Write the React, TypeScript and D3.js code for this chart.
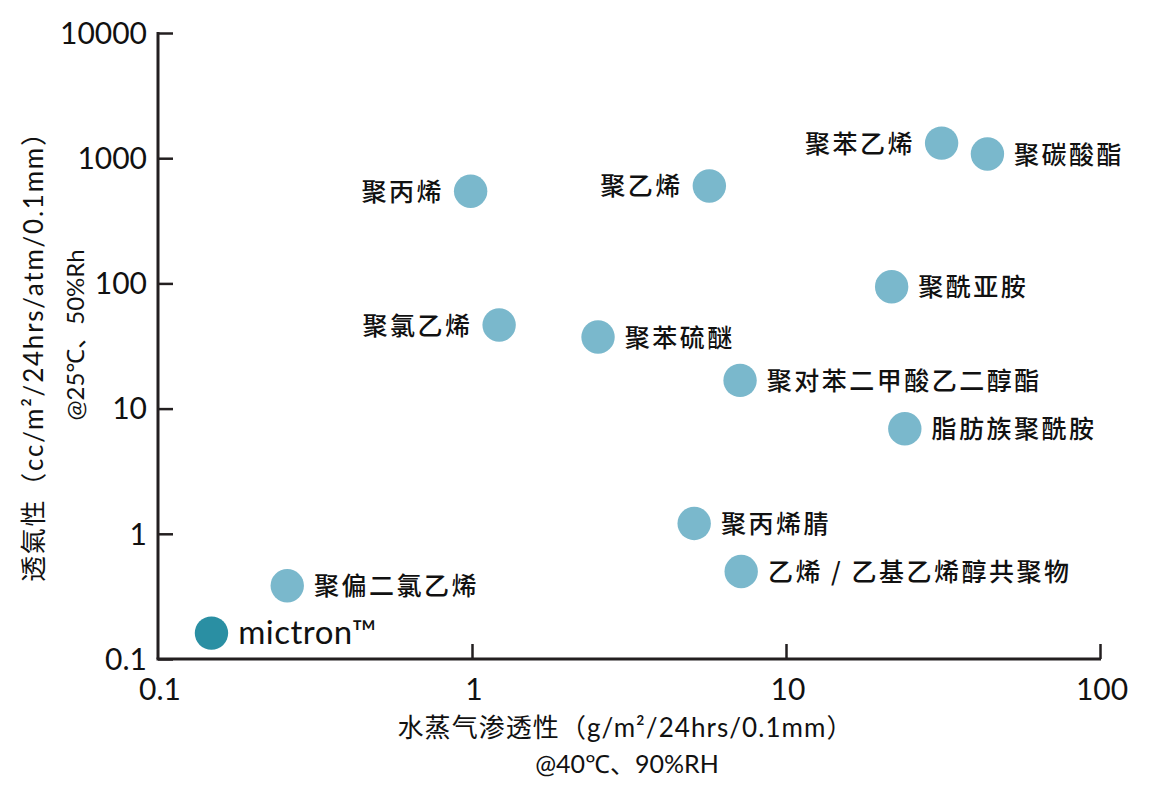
import React, { useEffect, useRef } from "react";
import * as d3 from "d3";

// water vapour transmission (g/m²/24hrs/0.1mm) vs oxygen transmission (cc/m²/24hrs/atm/0.1mm)
const materials = [
  "聚丙烯",
  "聚乙烯",
  "聚苯乙烯",
  "聚碳酸酯",
  "聚酰亚胺",
  "聚氯乙烯",
  "聚苯硫醚",
  "聚对苯二甲酸乙二醇酯",
  "脂肪族聚酰胺",
  "聚丙烯腈",
  "乙烯 / 乙基乙烯醇共聚物",
  "聚偏二氯乙烯",
  "mictron™",
];
const waterVapor = [0.99, 5.7, 31.3, 43.8, 21.7, 1.22, 2.52, 7.14, 23.9, 5.1, 7.2, 0.258, 0.148];
const oxygen = [545, 600, 1320, 1080, 94, 46.5, 37.3, 16.8, 6.9, 1.21, 0.5, 0.385, 0.161];

const leftLabeled = ["聚丙烯", "聚乙烯", "聚苯乙烯", "聚氯乙烯"];
const highlight = "mictron™";

const xTicks = [0.1, 1, 10, 100];
const yTicks = [0.1, 1, 10, 100, 1000, 10000];

const width = 1139;
const height = 790;

const App: React.FC = () => {
  const svgRef = useRef<SVGSVGElement>(null);

  useEffect(() => {
    const svg = d3.select(svgRef.current);
    svg.selectAll("*").remove();

    const xScale = d3.scaleLog().domain([0.1, 100]).range([150, 1092]);
    const yScale = d3.scaleLog().domain([0.1, 10000]).range([651, 25]);

    const axisColor = "#231f20";
    const numFont = "Lato, 'Noto Sans', sans-serif";
    const cjkFont = "'Noto Sans CJK SC', 'Noto Sans CJK JP', sans-serif";

    // y axis (ticks inside)
    const yAxis = svg.append("g").attr("transform", `translate(${xScale(0.1)},0)`);
    yAxis
      .call(d3.axisRight(yScale).tickValues(yTicks).tickSize(15).tickFormat(() => ""))
      .call((g) => g.select(".domain").remove());
    yAxis.selectAll("line").attr("stroke", axisColor).attr("stroke-width", 2.5);
    yAxis
      .append("line")
      .attr("y1", yScale(10000) - 1)
      .attr("y2", yScale(0.1))
      .attr("stroke", axisColor)
      .attr("stroke-width", 3);
    yAxis
      .selectAll("text.lbl")
      .data(yTicks)
      .join("text")
      .attr("class", "lbl")
      .attr("x", -11)
      .attr("y", (d) => yScale(d))
      .attr("dy", "0.36em")
      .attr("text-anchor", "end")
      .attr("font-family", numFont)
      .attr("font-size", 30)
      .attr("fill", "#111")
      .text((d) => String(d));

    // x axis (ticks inside)
    const xAxis = svg.append("g").attr("transform", `translate(0,${yScale(0.1)})`);
    xAxis
      .call(d3.axisTop(xScale).tickValues(xTicks.slice(1)).tickSize(15).tickFormat(() => ""))
      .call((g) => g.select(".domain").remove());
    xAxis.selectAll("line").attr("stroke", axisColor).attr("stroke-width", 2.5);
    xAxis
      .append("line")
      .attr("x1", xScale(0.1) - 1.5)
      .attr("x2", xScale(100) + 1)
      .attr("stroke", axisColor)
      .attr("stroke-width", 3);
    xAxis
      .selectAll("text.lbl")
      .data(xTicks)
      .join("text")
      .attr("class", "lbl")
      .attr("x", (d) => xScale(d) + 2)
      .attr("y", 41)
      .attr("text-anchor", "middle")
      .attr("font-family", numFont)
      .attr("font-size", 30)
      .attr("fill", "#111")
      .text((d) => String(d));

    // axis titles
    const titleFont = numFont + ", " + cjkFont;
    svg
      .append("text")
      .attr("x", 617)
      .attr("y", 729)
      .attr("text-anchor", "middle")
      .attr("font-family", titleFont)
      .attr("font-size", 26)
      .attr("textLength", 455)
      .attr("lengthAdjust", "spacing")
      .attr("fill", "#111")
      .text("水蒸气渗透性（g/m²/24hrs/0.1mm）");
    svg
      .append("text")
      .attr("x", 619)
      .attr("y", 765)
      .attr("text-anchor", "middle")
      .attr("font-family", titleFont)
      .attr("font-size", 25)
      .attr("fill", "#111")
      .text("@40℃、90%RH");

    const yTitle = svg
      .append("g")
      .attr("transform", "rotate(-90)")
      .attr("font-family", titleFont)
      .attr("fill", "#111")
      .attr("text-anchor", "middle");
    yTitle
      .append("text")
      .attr("x", -343)
      .attr("y", 35)
      .attr("font-size", 26)
      .attr("textLength", 462)
      .attr("lengthAdjust", "spacing")
      .text("透氣性（cc/m²/24hrs/atm/0.1mm）");
    yTitle
      .append("text")
      .attr("x", -327)
      .attr("y", 76)
      .attr("font-size", 24)
      .text("@25℃、50%Rh");

    // points
    const data = materials.map((name, i) => ({ name, x: waterVapor[i], y: oxygen[i] }));
    const r = 16.7;

    const pts = svg.append("g");
    pts
      .selectAll("circle")
      .data(data)
      .join("circle")
      .attr("cx", (d) => xScale(d.x))
      .attr("cy", (d) => yScale(d.y))
      .attr("r", r)
      .attr("fill", (d) => (d.name === highlight ? "#2a8fa3" : "#7ab8cc"));

    pts
      .selectAll("text")
      .data(data)
      .join("text")
      .attr("x", (d) =>
        leftLabeled.includes(d.name) ? xScale(d.x) - r - 10 : xScale(d.x) + r + 10
      )
      .attr("y", (d) => yScale(d.y))
      .attr("dy", (d) => (d.name === highlight ? "0.33em" : "0.38em"))
      .attr("text-anchor", (d) => (leftLabeled.includes(d.name) ? "end" : "start"))
      .attr("font-family", (d) => (d.name === highlight ? numFont : cjkFont))
      .attr("font-size", (d) => (d.name === highlight ? 33 : 25))
      .attr("font-weight", (d) => (d.name === highlight ? 400 : 500))
      .attr("letter-spacing", (d) => (d.name === highlight ? 0.5 : 2.5))
      .attr("fill", "#111")
      .text((d) => d.name);
  }, []);

  return <svg ref={svgRef} width={width} height={height} style={{ display: "block" }} />;
};

export default App;
